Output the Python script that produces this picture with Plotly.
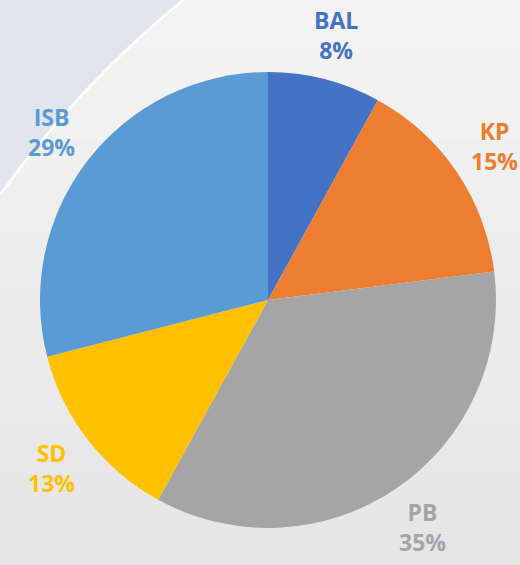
import math

import plotly.graph_objects as go

# Share per region (percent)
regions = ["BAL", "KP", "PB", "SD", "ISB"]
shares = [8, 15, 35, 13, 29]
colors = ["#4472C4", "#ED7D31", "#A5A5A5", "#FFC000", "#5B9BD5"]

W, H = 520, 565
cx, cy, r = 268, 300, 228
label_r = 274  # data labels sit a bit outside the pie, Excel style

fig = go.Figure(
    data=[
        go.Pie(
            labels=regions,
            values=shares,
            sort=False,
            direction="clockwise",
            rotation=0,
            marker=dict(colors=colors, line=dict(width=0)),
            textinfo="none",
            showlegend=False,
            hoverinfo="label+percent",
            domain=dict(
                x=[(cx - r) / W, (cx + r) / W],
                y=[1 - (cy + r) / H, 1 - (cy - r) / H],
            ),
        )
    ]
)

# labels at the middle angle of each slice (clockwise from 12 o'clock)
total = sum(shares)
cum = 0
for name, v, col in zip(regions, shares, colors):
    mid = (cum + v / 2) / total * 2 * math.pi
    cum += v
    px = cx + label_r * math.sin(mid)
    py = cy - label_r * math.cos(mid)
    fig.add_annotation(
        x=px / W, y=1 - py / H,
        xref="paper", yref="paper",
        xanchor="center", yanchor="middle",
        text=f"<b>{name}</b><br><b>{round(v / total * 100)}%</b>",
        showarrow=False,
        borderpad=0,
        font=dict(family="Open Sans", size=23, color=col),
        align="center",
    )

# soft vertical gradient of the slide background (light at top, greyer below)
n_bands = 12
for i in range(n_bands):
    g = round(0xF3 - (0xF3 - 0xE6) * i / (n_bands - 1))
    fig.add_shape(
        type="rect",
        x0=0, x1=1,
        y0=1 - (i + 1) / n_bands, y1=1 - i / n_bands,
        xref="paper", yref="paper",
        fillcolor=f"rgb({g},{g},{g})", line=dict(width=0), layer="below",
    )

# bluish panel top-left with a white arc, like the slide it came from
arc = "M 0,{y0} Q {cx1},{cy1} {x2},1".format(
    y0=1 - 195 / H, cx1=78 / W, cy1=1 - 86 / H, x2=183 / W
)
fig.add_shape(
    type="path",
    path=arc + " L 0,1 Z",
    xref="paper", yref="paper",
    fillcolor="#E1E5ED", line=dict(width=0), layer="below",
)
fig.add_shape(
    type="path",
    path=arc,
    xref="paper", yref="paper",
    line=dict(color="#FFFFFF", width=2.5), layer="below",
)

fig.update_layout(
    width=W,
    height=H,
    margin=dict(l=0, r=0, t=0, b=0),
    paper_bgcolor="#EDEDED",
    plot_bgcolor="#EDEDED",
)

fig.write_html(
    "out.html",
    config={"displayModeBar": False},
    post_script="document.body.style.margin='0';",
)
